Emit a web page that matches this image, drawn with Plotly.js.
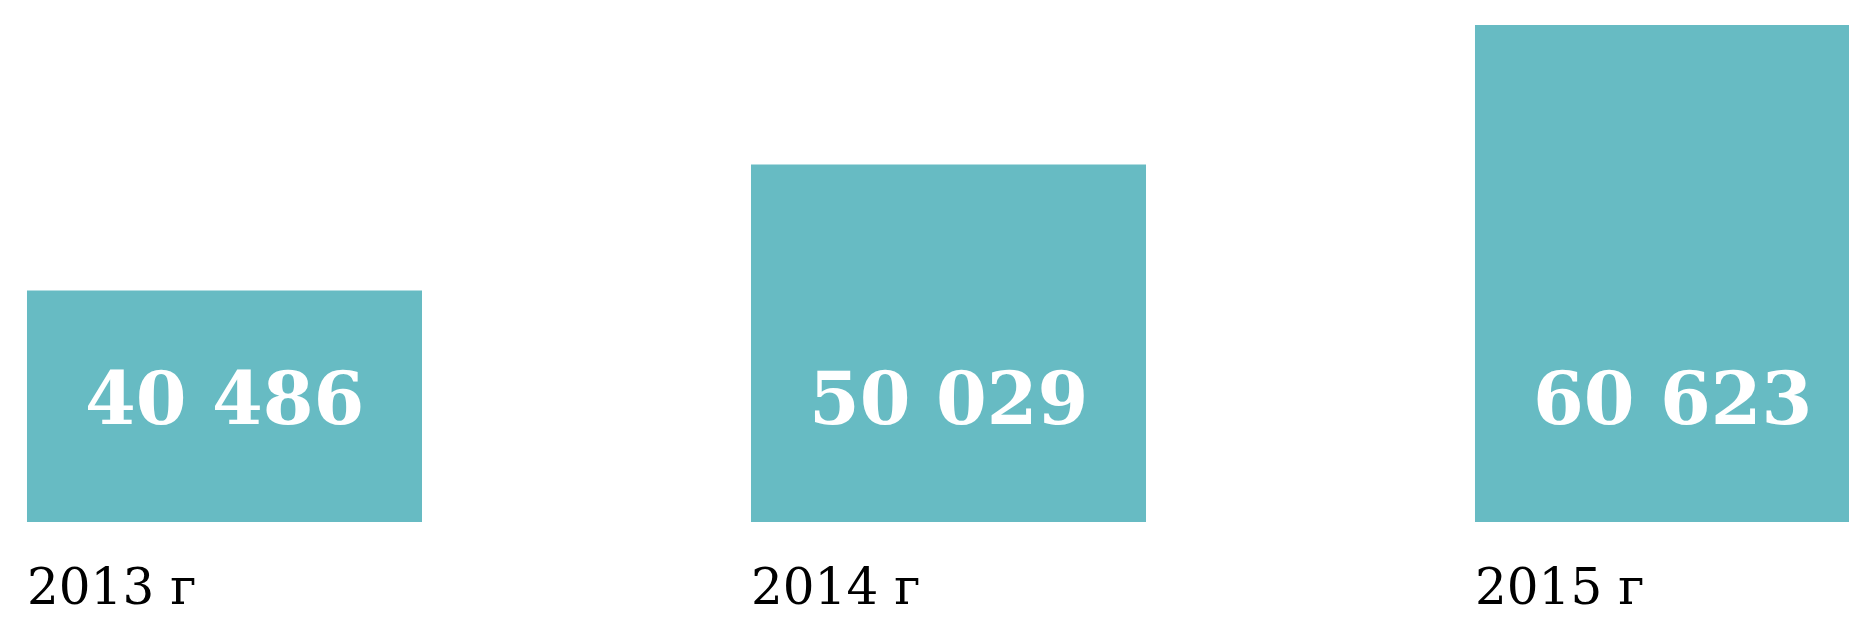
<!DOCTYPE html>
<html>
<head>
<meta charset="utf-8">
<script src="https://cdn.plot.ly/plotly-3.0.1.min.js"></script>
<style>
  html, body { margin: 0; padding: 0; background: #ffffff; overflow: hidden; }
  #chart { width: 1849px; height: 618px; }
</style>
</head>
<body>
<div id="chart"></div>
<script>
// Data
var years = ["2013 г", "2014 г", "2015 г"];
var values = [40486, 50029, 60623];

var barColor = "#67bbc3";
var barWidth = 0.5456;
var xPos = years.map(function (_, i) { return i; });

function fmt(v) {
  return String(v).replace(/\B(?=(\d{3})+(?!\d))/g, " ");
}

var trace = {
  type: "bar",
  x: xPos,
  y: values,
  width: barWidth,
  marker: { color: barColor, line: { width: 0 } },
  hoverinfo: "skip",
  showlegend: false
};

var annotations = [];
values.forEach(function (v, i) {
  annotations.push({
    x: xPos[i], xref: "x",
    y: 0.2465, yref: "paper",
    text: fmt(v),
    showarrow: false,
    xanchor: "center", yanchor: "middle",
    font: { family: "DejaVu Serif", size: 73, color: "#ffffff", weight: "bold" }
  });
});
years.forEach(function (t, i) {
  annotations.push({
    x: xPos[i] - barWidth / 2, xref: "x",
    y: -0.1287, yref: "paper",
    text: t,
    showarrow: false,
    xanchor: "left", yanchor: "middle",
    xshift: -2,
    font: { family: "DejaVu Serif", size: 50, color: "#000000" }
  });
});

var layout = {
  width: 1849,
  height: 618,
  margin: { l: 0, r: 0, t: 17, b: 96, pad: 0 },
  paper_bgcolor: "#ffffff",
  plot_bgcolor: "#ffffff",
  xaxis: {
    type: "linear",
    range: [-0.31008, 2.24378],
    visible: false,
    fixedrange: true
  },
  yaxis: {
    range: [22928, 61223],
    visible: false,
    fixedrange: true
  },
  annotations: annotations,
  showlegend: false
};

Plotly.newPlot("chart", [trace], layout, { displayModeBar: false, staticPlot: true });
</script>
</body>
</html>
